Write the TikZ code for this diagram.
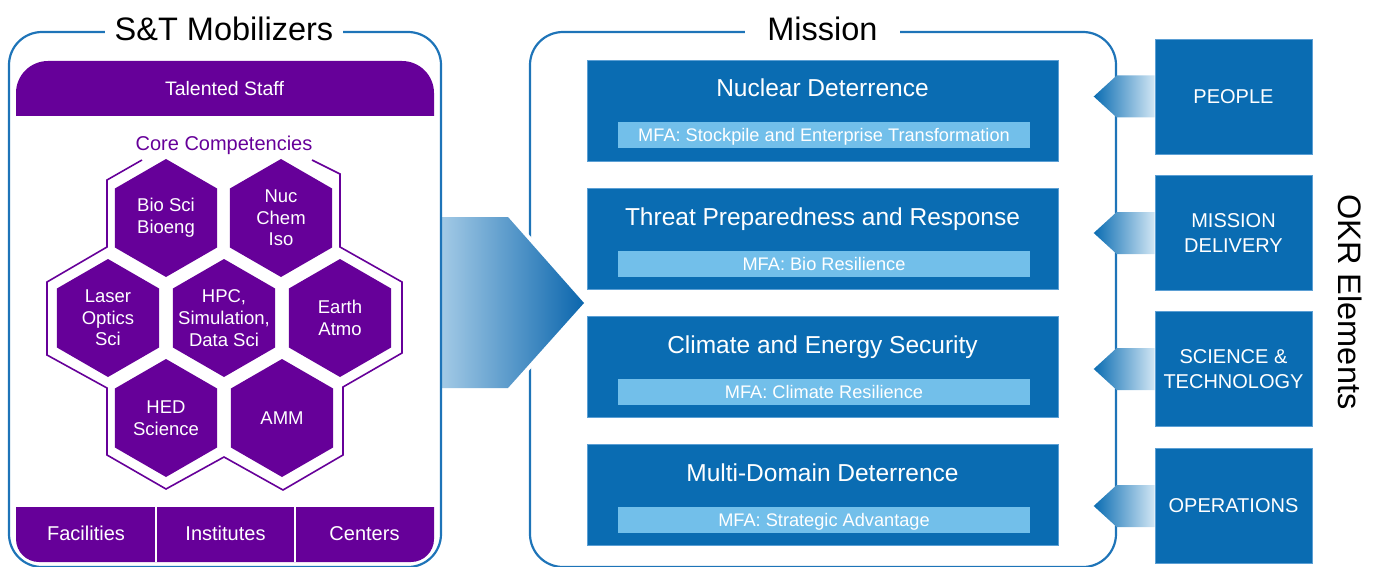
\documentclass[tikz,border=0pt]{standalone}
\usepackage{fontspec}
\setmainfont{Liberation Sans}
\usetikzlibrary{calc}
\definecolor{okrblue}{HTML}{0A6CB2}
\definecolor{panelblue}{HTML}{1E74B8}
\definecolor{boxedge}{HTML}{5B9FD4}
\definecolor{mfablue}{HTML}{72BFEA}
\definecolor{lpurple}{HTML}{660099}
\definecolor{arrowlight}{HTML}{D2E6F4}
\definecolor{bigarrowlight}{HTML}{A3CAE6}
\definecolor{bigarrowdark}{HTML}{0B66AD}
\newcommand{\fsz}[2]{\fontsize{#1}{#2}\selectfont}
\begin{document}
\begin{tikzpicture}[x=1pt,y=-1pt,
  panel/.style={draw=panelblue, line width=2.2pt, rounded corners=33pt},
  paneltitle/.style={fill=white, inner xsep=10pt, inner ysep=2pt, anchor=base, font=\fsz{32.5}{39}, text=black},
  hexfill/.style={fill=lpurple},
  hextext/.style={text=white, align=center, font=\fsz{18.5}{21.7}, inner sep=0pt},
  whitelabel/.style={text=white, anchor=base, font=\fsz{20}{24}, inner sep=0pt},
  missionbox/.style={fill=okrblue, draw=boxedge, line width=0.8pt, minimum width=471pt, minimum height=101pt, inner sep=0pt},
  missiontitle/.style={text=white, anchor=base, font=\fsz{24.5}{29}, inner sep=0pt},
  mfabar/.style={fill=mfablue, text=white, minimum width=412pt, minimum height=26pt, inner sep=0pt, text height=13pt, text depth=0pt, font=\fsz{18.2}{22}},
  okrbox/.style={fill=okrblue, draw=boxedge, line width=0.6pt, text=white, minimum width=157pt, minimum height=115pt, align=center, font=\fsz{20}{24.7}, inner sep=0pt},
  chevron/.style={left color=okrblue, right color=arrowlight}
]
\useasboundingbox (0,0) rectangle (1374,567);

% Mission panel
\draw[panel] (530,32) rectangle (1116,567);

% big arrow from mobilizers to mission
\path[draw=white, line width=8pt, line join=miter] (441,217) -- (508,217) -- (584,303) -- (508,388) -- (441,388) -- cycle;
\shade[left color=bigarrowlight, right color=bigarrowdark] (441,217) -- (508,217) -- (584,303) -- (508,388) -- (441,388) -- cycle;

% S&T panel
\draw[panel] (9,32) rectangle (441,567);
\node[paneltitle] (stm) at (224,41) {S\&T Mobilizers};
\node[paneltitle, inner xsep=22pt] (mission) at (822.5,41) {Mission};

% Talented staff bar
\fill[lpurple] (16,116) -- (16,93) arc(180:270:32) -- (402,61) arc(270:360:32) -- (434,116) -- cycle;
\node[whitelabel, font=\fsz{19.5}{23}] (staff) at (224.5,96) {Talented Staff};

% Core competencies
\node[anchor=base, font=\fsz{20}{24}, text=lpurple, inner sep=0pt] (core) at (224,150) {Core Competencies};
\draw[lpurple, line width=1.6pt, line join=miter] (142,160) -- (107,180) -- (107,247) -- (47,282) -- (47,355) -- (107,388) -- (107,455) -- (166,489) -- (224,457) -- (283,490) -- (343,455) -- (343,387) -- (402,353) -- (402,282) -- (340,247) -- (340,174) -- (312,160);

\foreach \nm/\cx/\cy/\txt in {bio/166/218/{Bio Sci\\Bioeng}, nuc/281/218/{Nuc\\Chem\\Iso}, laser/108/318/{Laser\\Optics\\Sci}, hpc/224/318/{HPC,\\Simulation,\\Data Sci}, earth/340/318/{Earth\\Atmo}, hed/166/418/{HED\\Science}, amm/282/418/{AMM}}{
  \fill[hexfill] (\cx,\cy) ++(0,-59) -- ++(51.1,29.5) -- ++(0,59) -- ++(-51.1,29.5) -- ++(-51.1,-29.5) -- ++(0,-59) -- cycle;
  \node[hextext] (\nm) at (\cx,\cy) {\txt};
}

% bottom bar
\fill[lpurple] (16,507) -- (434,507) -- (434,539) arc(0:90:23) -- (39,562) arc(90:180:23) -- cycle;
\draw[white, line width=1.5pt] (156,507) -- (156,562);
\draw[white, line width=1.5pt] (295,507) -- (295,562);
\node[whitelabel] (fac) at (86,540) {Facilities};
\node[whitelabel] (inst) at (225.5,540) {Institutes};
\node[whitelabel] (cent) at (364.5,540) {Centers};

% mission boxes
\foreach \i/\nm/\ttl/\mfa in {0/nd/{Nuclear Deterrence}/{MFA: Stockpile and Enterprise Transformation}, 1/tpr/{Threat Preparedness and Response}/{MFA: Bio Resilience}, 2/ces/{Climate and Energy Security}/{MFA: Climate Resilience}, 3/mdd/{Multi-Domain Deterrence}/{MFA: Strategic Advantage}}{
  \pgfmathsetmacro\T{60+128*\i}
  \node[missionbox] (\nm) at (822.5,\T+50.5) {};
  \node[missiontitle] (\nm-t) at (822.5,\T+37) {\ttl};
  \node[mfabar] (\nm-m) at (824,\T+75.5) {\mfa};
}

% OKR boxes
\node[okrbox] (people) at (1233.5,96.5) {PEOPLE};
\node[okrbox] (mdel) at (1233.5,233) {MISSION\\DELIVERY};
\node[okrbox] (sci) at (1233.5,369) {SCIENCE \&\\TECHNOLOGY};
\node[okrbox] (ops) at (1233.5,506) {OPERATIONS};
\foreach \b in {people,mdel,sci,ops}{
  \shade[chevron] (\b.west) ++(0,-21) -- ++(-38,0) -- ++(-23,21) -- ++(23,21) -- ++(38,0) -- cycle;
}
\node[rotate=-90, font=\fsz{32.5}{39}, inner sep=0pt] (okr) at (1350.5,302) {OKR Elements};
\end{tikzpicture}
\end{document}
